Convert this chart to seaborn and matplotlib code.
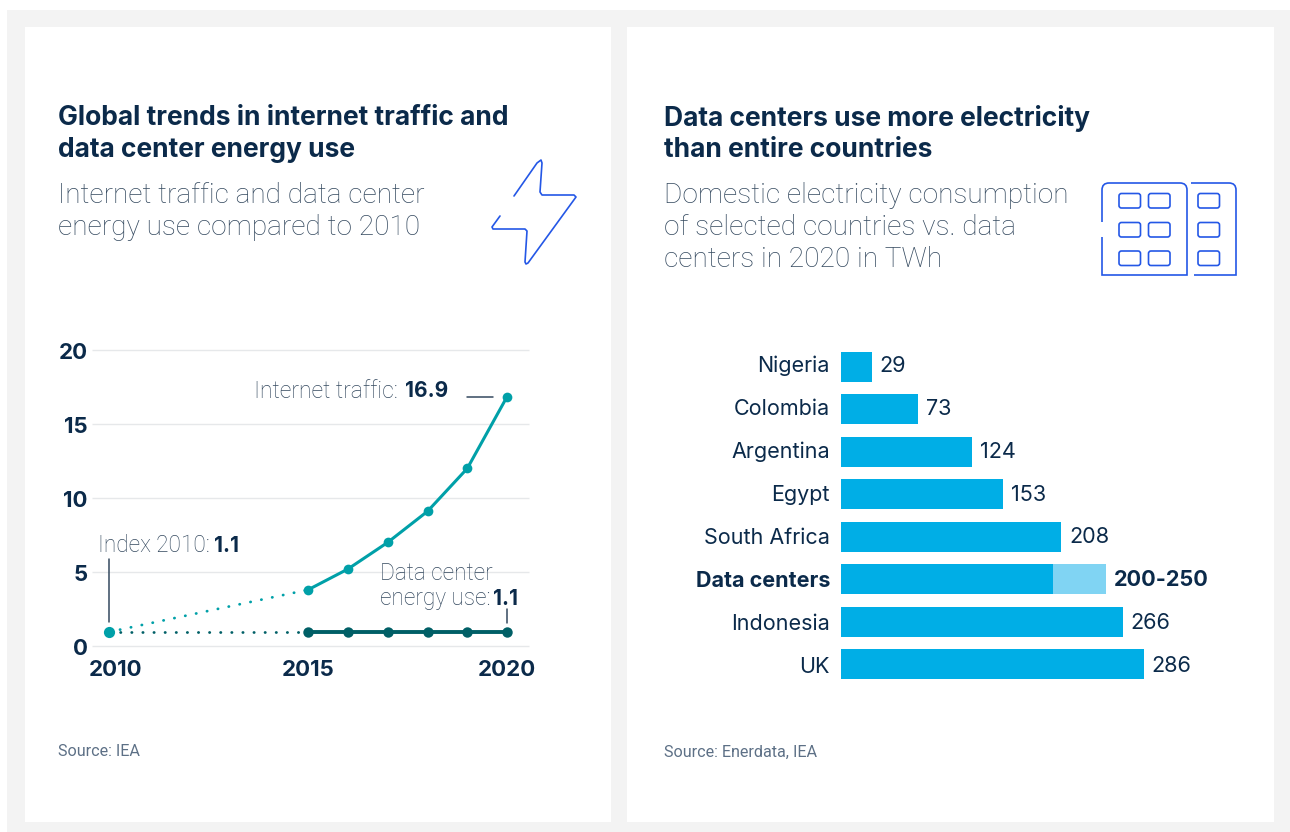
import matplotlib
matplotlib.use('Agg')
import matplotlib.pyplot as plt
import seaborn as sns
from matplotlib.patches import Rectangle, FancyBboxPatch, PathPatch
from matplotlib.path import Path
from matplotlib.transforms import ScaledTranslation

# data
years = [2015, 2016, 2017, 2018, 2019, 2020]
traffic = [3.8, 5.2, 7.0, 9.1, 12.0, 16.85]
energy = [0.95, 0.95, 0.95, 0.95, 0.95, 0.95]
start_year = 2010
start_value = 0.95
y_ticks = [0, 5, 10, 15, 20]
x_ticks = [2010, 2015, 2020]

countries = ['Nigeria', 'Colombia', 'Argentina', 'Egypt', 'South Africa', 'Data centers', 'Indonesia', 'UK']
twh = [29, 73, 124, 153, 208, 200, 266, 286]
twh_upper = [29, 73, 124, 153, 208, 250, 266, 286]
twh_labels = ['29', '73', '124', '153', '208', '200-250', '266', '286']

NAVY = '#0b2a4a'
GREY = '#34495f'
TEAL = '#00a0a8'
DARK_TEAL = '#005f66'
BLUE = '#00aee6'
LIGHT_BLUE = '#80d4f3'
ICON = '#2457e6'
W, H = 1290, 832
BOLD = 'Inter'
LIGHT = 'Roboto'

sns.set_theme(style='white')
plt.rcParams['font.family'] = [BOLD, 'DejaVu Sans']

fig = plt.figure(figsize=(W / 100, H / 100), dpi=100)
fig.patch.set_facecolor('white')

# page layer in pixel coordinates
page = fig.add_axes([0, 0, 1, 1], zorder=0)
page.set_xlim(0, W)
page.set_ylim(H, 0)
page.axis('off')
page.add_patch(Rectangle((7, 10), W - 7, H - 10, color='#f3f3f3', lw=0))
page.add_patch(Rectangle((25, 27), 586, 795, color='white', lw=0))
page.add_patch(Rectangle((627, 27), 647, 795, color='white', lw=0))


def px_axes(left, top, right, bottom):
    return fig.add_axes([left / W, 1 - bottom / H, (right - left) / W, (bottom - top) / H], zorder=1)


# top layer for annotations
top = fig.add_axes([0, 0, 1, 1], zorder=3)
top.set_xlim(0, W)
top.set_ylim(H, 0)
top.axis('off')
top.patch.set_alpha(0)


def light_text(x, y, txt, size):
    return top.text(x, y, txt, color=GREY, fontsize=size, family=LIGHT, fontweight='light', va='center')


def mixed(x, y, light, bold, size=16.3, gap=6):
    # bold value follows straight after the light label
    t = light_text(x, y, light, size)
    fig.canvas.draw()
    x1 = top.transData.inverted().transform((t.get_window_extent().x1, 0))[0]
    top.text(x1 + gap, y, bold, color=NAVY, fontsize=15, fontweight='bold', va='center')


# headings
for x, y, txt in [(58, 116, 'Global trends in internet traffic and'), (58, 148, 'data center energy use'),
                  (664, 116, 'Data centers use more electricity'), (664, 148, 'than entire countries')]:
    top.text(x, y + 2, txt, color=NAVY, fontsize=19, fontweight='bold', va='center')
for x, y, txt in [(58, 193, 'Internet traffic and data center'), (58, 225, 'energy use compared to 2010'),
                  (664, 193, 'Domestic electricity consumption'), (664, 225, 'of selected countries vs. data'),
                  (664, 257, 'centers in 2020 in TWh')]:
    light_text(x, y + 2.5, txt, 20.2)
top.text(58, 752, 'Source: IEA', color='#5d7086', fontsize=11.6, family=LIGHT, va='center')
top.text(664, 752, 'Source: Enerdata, IEA', color='#5d7086', fontsize=11.6, family=LIGHT, va='center')

# line chart
ax = px_axes(92, 350, 529, 646)
ax.patch.set_alpha(0)
sns.lineplot(x=[start_year, years[0]], y=[start_value, traffic[0]], ax=ax, color=TEAL, lw=2.0,
             linestyle=(0, (0.1, 3.9)), dash_capstyle='round', clip_on=False)
sns.lineplot(x=[start_year, years[0]], y=[start_value, energy[0]], ax=ax, color=DARK_TEAL, lw=2.0,
             linestyle=(0, (0.1, 3.9)), dash_capstyle='round', clip_on=False)
sns.lineplot(x=years, y=traffic, ax=ax, color=TEAL, lw=2.2, marker='o', ms=7, mew=0, clip_on=False)
sns.lineplot(x=years, y=energy, ax=ax, color=DARK_TEAL, lw=2.8, marker='o', ms=7.5, mew=0, clip_on=False)
sns.scatterplot(x=[start_year], y=[start_value], ax=ax, color=TEAL, s=65, lw=0, clip_on=False, zorder=5)
ax.set_xlim(2009.57, 2020.55)
ax.set_ylim(0, 20)
ax.set_yticks(y_ticks)
ax.set_xticks(x_ticks)
ax.set_xlabel('')
ax.set_ylabel('')
ax.grid(axis='y', color='#e6e8ea', lw=1, clip_on=False, solid_capstyle='butt')
ax.set_axisbelow(True)
sns.despine(ax=ax, left=True, bottom=True)
ax.tick_params(axis='both', length=0, colors=NAVY, labelsize=16)
ax.tick_params(axis='x', pad=10)
ax.tick_params(axis='y', pad=3)
for lab in ax.get_xticklabels() + ax.get_yticklabels():
    lab.set_fontweight('bold')
for lab in ax.get_yticklabels():
    lab.set_transform(lab.get_transform() + ScaledTranslation(0, -1 / 100, fig.dpi_scale_trans))
first = ax.get_xticklabels()[0]
first.set_transform(first.get_transform() + ScaledTranslation(6 / 100, 0, fig.dpi_scale_trans))

mixed(254, 391, 'Internet traffic:', '16.9', size=16.6, gap=7)
mixed(98, 546, 'Index 2010:', '1.1', gap=4)
light_text(380, 574, 'Data center', 16.3)
mixed(380, 599, 'energy use:', '1.1', gap=3)
top.plot([467, 493], [397, 397], color=GREY, lw=1.1)
top.plot([109, 109], [559, 622], color=GREY, lw=1.1)
top.plot([507, 507], [609, 623], color=GREY, lw=1.1)

# bar chart
bx = px_axes(841, 345.6, 1250, 685.4)
bx.patch.set_alpha(0)
sns.barplot(x=twh_upper, y=countries, ax=bx, color=LIGHT_BLUE, width=0.71, saturation=1, linewidth=0)
sns.barplot(x=twh, y=countries, ax=bx, color=BLUE, width=0.71, saturation=1, linewidth=0)
bx.set_xlim(0, 409 / 1.059)
bx.set_ylim(7.5, -0.5)
bx.set_xlabel('')
bx.set_ylabel('')
bx.set_xticks([])
sns.despine(ax=bx, left=True, bottom=True)
bx.tick_params(axis='y', length=0, pad=8, labelsize=15.5, labelcolor=NAVY)
# label rows run a little wider than the bars
for i, lab in enumerate(bx.get_yticklabels()):
    dy = (3 - 4 * i / 7) / 100
    lab.set_transform(lab.get_transform() + ScaledTranslation(0, dy, fig.dpi_scale_trans))
    if lab.get_text() == 'Data centers':
        lab.set_fontweight('bold')
labels = bx.bar_label(bx.containers[0], labels=twh_labels, padding=5.5, color=NAVY, fontsize=15.6)
for i, lab in enumerate(labels):
    lab.xyann = (lab.xyann[0], lab.xyann[1] + (1 - 3 * i / 7) * 0.72)
labels[5].set_fontweight('bold')

# lightning icon
bolt = [(514, 196), (537, 163), (541, 160), (542, 163), (540, 192), (542, 195), (574, 195), (576, 197),
        (528, 263), (526, 264), (525, 262), (527, 231), (525, 229), (493, 229), (492, 227), (500, 216)]
top.plot(*zip(*bolt), color=ICON, lw=1.2, solid_joinstyle='round')


# building icon
def outline(points, codes):
    top.add_patch(PathPatch(Path(points, codes), fill=False, ec=ICON, lw=1.2))


outline([(1102, 222), (1102, 190), (1102, 183), (1109, 183), (1180, 183), (1187, 183), (1187, 190), (1187, 275),
         (1102, 275), (1102, 237)],
        [Path.MOVETO, Path.LINETO, Path.CURVE3, Path.CURVE3, Path.LINETO, Path.CURVE3, Path.CURVE3, Path.LINETO,
         Path.LINETO, Path.LINETO])
outline([(1191, 183), (1229, 183), (1236, 183), (1236, 190), (1236, 275), (1194, 275)],
        [Path.MOVETO, Path.LINETO, Path.CURVE3, Path.CURVE3, Path.LINETO, Path.LINETO])
for wx in [1119, 1148.5, 1198]:
    for wy in [193.5, 222.5, 251]:
        top.add_patch(FancyBboxPatch((wx + 2, wy + 2), 17.5, 10.5, boxstyle='round,pad=2,rounding_size=2.5',
                                     fill=False, ec=ICON, lw=1.2))

fig.savefig('out.png', dpi=100)
